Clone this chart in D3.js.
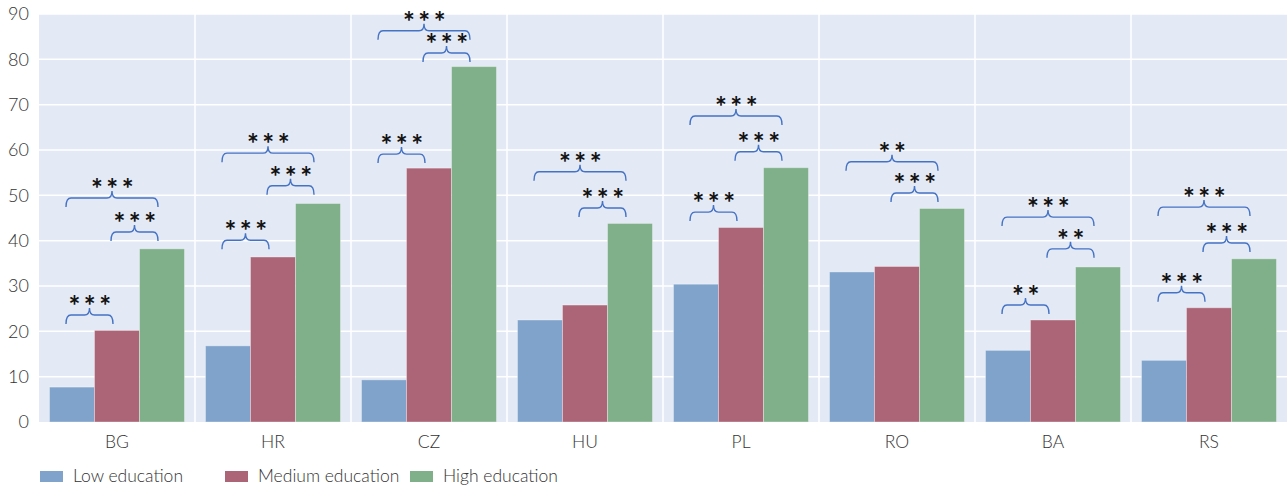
<!DOCTYPE html>
<html><head><meta charset="utf-8">
<script src="https://cdn.jsdelivr.net/npm/d3@7"></script>
<style>
body{margin:0;background:#fff;}
text{font-family:Lato,"Open Sans",sans-serif;}
</style></head>
<body><svg id="c" width="1287" height="488"></svg>
<script>
const categories = ["BG","HR","CZ","HU","PL","RO","BA","RS"];
const seriesNames = ["Low education","Medium education","High education"];
const lowEdu    = [7.7, 16.8, 9.3, 22.5, 30.4, 33.1, 15.8, 13.6];
const mediumEdu = [20.2, 36.4, 56.0, 25.8, 42.9, 34.3, 22.5, 25.2];
const highEdu   = [38.2, 48.2, 78.4, 43.8, 56.1, 47.1, 34.2, 36.0];
const yTicks = [0,10,20,30,40,50,60,70,80,90];
// significance brackets: country, from series, to series, level (value units), label
const brackets = [
  ["BG",0,1,23.6,"***"],["BG",1,2,41.9,"***"],["BG",0,2,49.4,"***"],
  ["HR",0,1,40.1,"***"],["HR",1,2,52.1,"***"],["HR",0,2,59.3,"***"],
  ["CZ",0,1,59.1,"***"],["CZ",1,2,81.4,"***"],["CZ",0,2,86.3,"***"],
  ["HU",1,2,47.2,"***"],["HU",0,2,55.2,"***"],
  ["PL",0,1,46.3,"***"],["PL",1,2,59.6,"***"],["PL",0,2,67.5,"***"],
  ["RO",1,2,50.5,"***"],["RO",0,2,57.4,"**"],
  ["BA",0,1,25.8,"**"],["BA",1,2,38.2,"**"],["BA",0,2,45.2,"***"],
  ["RS",0,1,28.5,"***"],["RS",1,2,39.5,"***"],["RS",0,2,47.4,"***"]
];
const colors = ["#7fa3ca","#ac6577","#80b08a"];

const svg = d3.select("#c");
const L=39, R=1287, T=14, B=422;
const x = d3.scaleBand().domain(categories).range([L,R]).paddingInner(0).paddingOuter(0);
const inner = d3.scaleBand().domain([0,1,2]).range([0,x.bandwidth()]).paddingInner(0).paddingOuter(0.233);
const y = d3.scaleLinear().domain([0,90]).range([B,T]);

svg.append("rect").attr("x",L).attr("y",T).attr("width",R-L).attr("height",B-T).attr("fill","#e3e9f5");
svg.append("g").selectAll("line").data(yTicks.filter(d=>d>0)).join("line")
  .attr("x1",L).attr("x2",R).attr("y1",d=>y(d)).attr("y2",d=>y(d))
  .attr("stroke","#fff").attr("stroke-width",1.5);
svg.append("g").selectAll("line").data(categories.slice(1)).join("line")
  .attr("x1",d=>x(d)).attr("x2",d=>x(d)).attr("y1",T).attr("y2",B)
  .attr("stroke","#fff").attr("stroke-width",1.5);

const series=[lowEdu,mediumEdu,highEdu];
series.forEach((vals,si)=>{
  svg.append("g").selectAll("rect").data(categories).join("rect")
    .attr("x",(c)=>x(c)+inner(si)).attr("width",inner.bandwidth())
    .attr("y",(c,i)=>y(vals[i])).attr("height",(c,i)=>B-y(vals[i]))
    .attr("fill",colors[si]).attr("stroke","rgba(255,255,255,0.35)").attr("stroke-width",1);
});

const yAxis = d3.axisLeft(y).tickValues(yTicks).tickSize(0).tickPadding(0);
const ga = svg.append("g").attr("transform",`translate(${29},0)`).call(yAxis);
ga.select(".domain").remove();
ga.selectAll("text").attr("font-size",18).attr("fill","#333").attr("font-family","Lato,'Open Sans',sans-serif").attr("font-weight",300);
const xAxis = d3.axisBottom(x).tickSize(0).tickPadding(0);
const gx = svg.append("g").attr("transform",`translate(0,${436})`).call(xAxis);
gx.select(".domain").remove();
gx.selectAll("text").attr("font-size",17.5).attr("fill","#333").attr("font-family","Lato,'Open Sans',sans-serif").attr("font-weight",300);

function bracePath(x1,x2,yy){
  const h=9,p=7,r=5,xm=(x1+x2)/2;
  return `M${x1},${yy+h} Q${x1},${yy} ${x1+r},${yy} L${xm-r},${yy} Q${xm},${yy} ${xm},${yy-p} Q${xm},${yy} ${xm+r},${yy} L${x2-r},${yy} Q${x2},${yy} ${x2},${yy+h}`;
}
const bg = svg.append("g");
brackets.forEach(([c,a,b,lvl,lab])=>{
  const x1 = x(c)+inner(a)+inner.bandwidth()/2-6;
  const x2 = x(c)+inner(b)+inner.bandwidth()/2-4;
  const yy = y(lvl);
  bg.append("path").attr("d",bracePath(x1,x2,yy)).attr("fill","none").attr("stroke","#4472c4").attr("stroke-width",1.4);
  bg.append("text").attr("x",(x1+x2)/2+2).attr("y",yy+1).attr("text-anchor","middle")
    .attr("font-family","DejaVu Sans").attr("font-size",28).attr("font-weight","bold")
    .attr("letter-spacing",3.5).attr("fill","#111").text(lab);
});

const legX=[40,225,410];
seriesNames.forEach((n,i)=>{
  svg.append("rect").attr("x",legX[i]).attr("y",471).attr("width",23).attr("height",11).attr("fill",colors[i]);
  svg.append("text").attr("x",legX[i]+33).attr("y",482).attr("font-size",17.5).attr("font-weight",300).attr("fill","#333").text(n);
});
</script></body></html>
